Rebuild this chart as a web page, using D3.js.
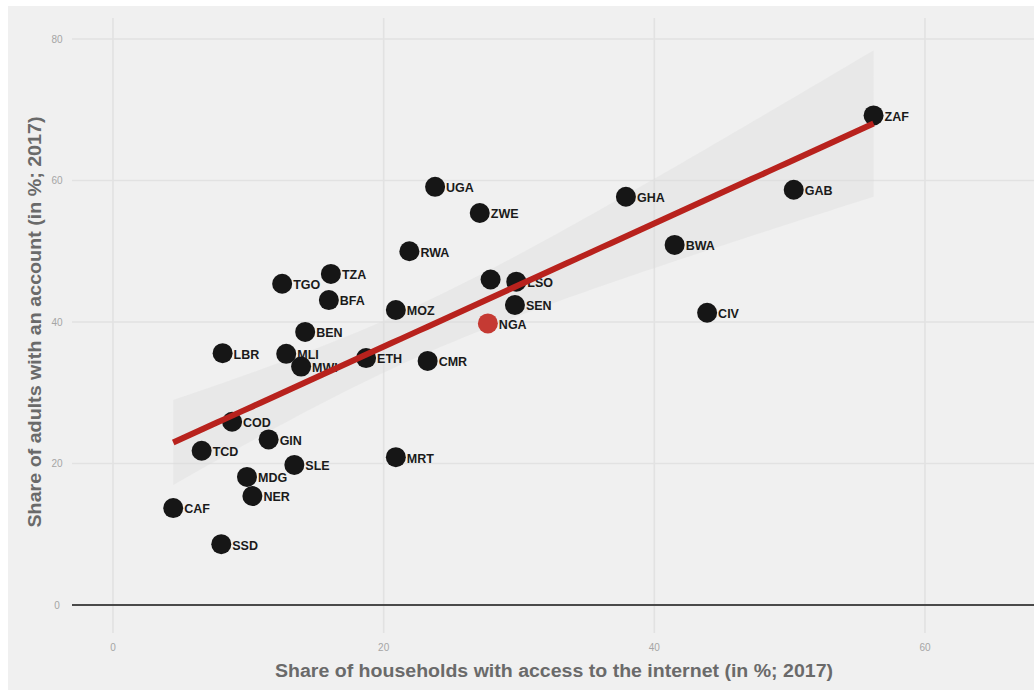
<!DOCTYPE html>
<html>
<head>
<meta charset="utf-8">
<script src="https://cdn.jsdelivr.net/npm/d3@7"></script>
<style>
  html, body { margin: 0; padding: 0; background: #ffffff; }
  svg { display: block; }
  text { font-family: "Liberation Sans", Arial, "Helvetica Neue", sans-serif; }
</style>
</head>
<body>
<svg id="chart" width="1034" height="690"></svg>
<script>
// Country codes (ISO3); one point is drawn without a label
const countries = ["ZAF","GAB","GHA","BWA","CIV","UGA","ZWE","RWA","","LSO","SEN","NGA","MOZ","TZA","TGO","BFA","BEN","LBR","MLI","MWI","ETH","CMR","COD","GIN","TCD","SLE","MRT","MDG","NER","CAF","SSD"];
// Share of households with internet access (%, 2017)
const internetShare = [56.2,50.3,37.9,41.5,43.9,23.8,27.1,21.9,27.9,29.8,29.7,27.7,20.9,16.1,12.5,15.95,14.2,8.1,12.8,13.9,18.7,23.25,8.8,11.5,6.55,13.4,20.9,9.9,10.3,4.45,8.0];
// Share of adults with an account (%, 2017)
const accountShare = [69.2,58.7,57.7,50.9,41.3,59.1,55.4,50.0,46.0,45.7,42.4,39.8,41.7,46.8,45.4,43.1,38.6,35.6,35.5,33.7,34.9,34.5,25.9,23.4,21.8,19.8,20.9,18.1,15.4,13.7,8.6];
const highlighted = ["NGA"];

const xTicks = [0, 20, 40, 60];
const yTicks = [0, 20, 40, 60, 80];
const xTitle = "Share of households with access to the internet (in %; 2017)";
const yTitle = "Share of adults with an account (in %; 2017)";

const data = countries.map((c, i) => ({ code: c, x: internetShare[i], y: accountShare[i] }));

const svg = d3.select("#chart");
const W = 1034, H = 690;

// panel background
svg.append("rect").attr("x", 8).attr("y", 6).attr("width", W - 8).attr("height", H - 6).attr("fill", "#f0f0f0");

const x = d3.scaleLinear().domain([0, 60]).range([113, 925]);
const y = d3.scaleLinear().domain([0, 80]).range([605, 39]);

const panel = { left: 72, right: W, top: 18, bottom: 633 };

// grid
const grid = svg.append("g");
grid.selectAll(".gx").data(xTicks).join("line")
  .attr("x1", d => x(d)).attr("x2", d => x(d))
  .attr("y1", panel.top).attr("y2", panel.bottom)
  .attr("stroke", "#e2e2e2").attr("stroke-width", 1.6);
grid.selectAll(".gy").data(yTicks.filter(d => d !== 0)).join("line")
  .attr("x1", panel.left).attr("x2", panel.right)
  .attr("y1", d => y(d)).attr("y2", d => y(d))
  .attr("stroke", "#e2e2e2").attr("stroke-width", 1.6);

// zero baseline
svg.append("line")
  .attr("x1", panel.left).attr("x2", panel.right)
  .attr("y1", y(0)).attr("y2", y(0))
  .attr("stroke", "#4a4a4a").attr("stroke-width", 2);

// tick labels
svg.append("g").selectAll("text").data(yTicks).join("text")
  .attr("x", 57).attr("y", d => y(d)).attr("dy", "0.35em")
  .attr("text-anchor", "middle")
  .attr("font-size", 10).attr("fill", "#a5a5a5")
  .text(d => d);
svg.append("g").selectAll("text").data(xTicks).join("text")
  .attr("x", d => x(d)).attr("y", 647).attr("dy", "0.35em")
  .attr("text-anchor", "middle")
  .attr("font-size", 10).attr("fill", "#a5a5a5")
  .text(d => d);

// axis titles
svg.append("text")
  .attr("x", 554).attr("y", 671).attr("dy", "0.35em")
  .attr("text-anchor", "middle")
  .attr("font-size", 18).attr("font-weight", "bold").attr("fill", "#6a6a6a")
  .attr("textLength", 558).attr("lengthAdjust", "spacingAndGlyphs")
  .text(xTitle);
svg.append("text")
  .attr("transform", "translate(35,322) rotate(-90)")
  .attr("dy", "0.35em")
  .attr("text-anchor", "middle")
  .attr("font-size", 18).attr("font-weight", "bold").attr("fill", "#6a6a6a")
  .attr("textLength", 411).attr("lengthAdjust", "spacingAndGlyphs")
  .text(yTitle);

// ordinary least squares fit with 95% confidence band
const n = data.length;
const mx = d3.mean(data, d => d.x), my = d3.mean(data, d => d.y);
const sxx = d3.sum(data, d => (d.x - mx) ** 2);
const sxy = d3.sum(data, d => (d.x - mx) * (d.y - my));
const slope = sxy / sxx, intercept = my - slope * mx;
const sse = d3.sum(data, d => (d.y - (intercept + slope * d.x)) ** 2);
const s = Math.sqrt(sse / (n - 2));
const tCrit = 2.045; // Student t, 0.975 quantile, 29 degrees of freedom
const [xmin, xmax] = d3.extent(data, d => d.x);
const fitPts = d3.range(0, 81).map(i => {
  const xv = xmin + (xmax - xmin) * i / 80;
  const fit = intercept + slope * xv;
  const se = s * Math.sqrt(1 / n + (xv - mx) ** 2 / sxx);
  return { x: xv, fit, lo: fit - tCrit * se, hi: fit + tCrit * se };
});

svg.append("path").datum(fitPts)
  .attr("d", d3.area().x(d => x(d.x)).y0(d => y(d.lo)).y1(d => y(d.hi)))
  .attr("fill", "#dadada").attr("fill-opacity", 0.35);

// labels sit under the dots
svg.append("g").selectAll("text").data(data.filter(d => d.code)).join("text")
  .attr("x", d => x(d.x) + 11).attr("y", d => y(d.y) + 1).attr("dy", "0.35em")
  .attr("font-size", 12.5).attr("font-weight", "bold").attr("fill", "#1a1a1a")
  .text(d => d.code);

svg.append("g").selectAll("circle").data(data).join("circle")
  .attr("cx", d => x(d.x)).attr("cy", d => y(d.y)).attr("r", 10)
  .attr("fill", d => highlighted.includes(d.code) ? "#c53a33" : "#161616");

svg.append("path").datum(fitPts)
  .attr("d", d3.line().x(d => x(d.x)).y(d => y(d.fit)))
  .attr("fill", "none").attr("stroke", "#b8221d").attr("stroke-width", 6);
</script>
</body>
</html>
